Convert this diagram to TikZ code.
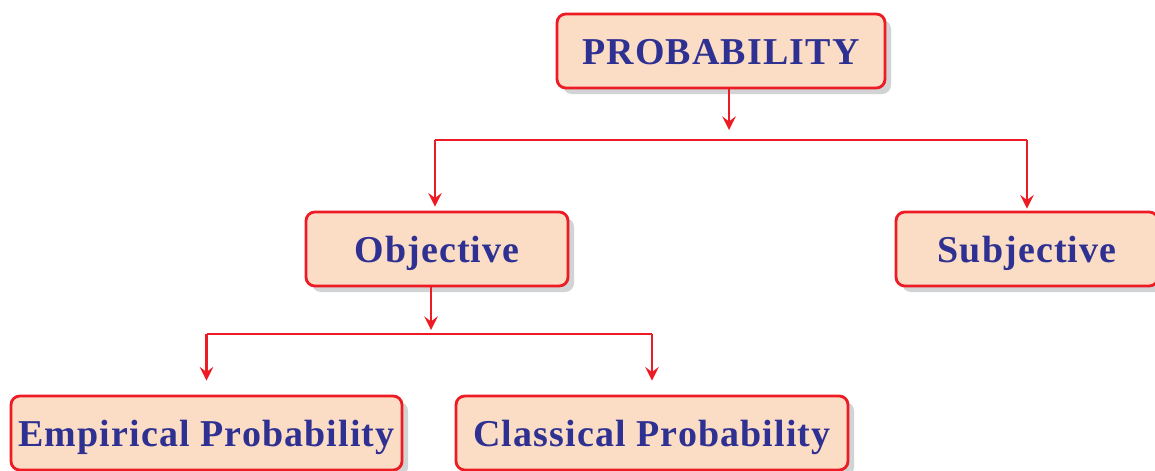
\documentclass[tikz,border=0pt]{standalone}
\usepackage{fontspec}
\setmainfont{Liberation Serif}
\newfontfamily\boxfont[LetterSpace=3]{Liberation Serif}
\usetikzlibrary{shadows}

\definecolor{boxfill}{HTML}{FBDCC5}
\definecolor{boxline}{HTML}{ED1C24}
\definecolor{boxtext}{HTML}{2E3192}
\definecolor{shadowgray}{HTML}{D1D3D4}

\tikzset{
  probbox/.style={draw=boxline, line width=0.8pt, fill=boxfill, rounded corners=2.5pt,
    minimum height=0.74cm, inner sep=0pt, text=boxtext,
    text height=0.30cm, text depth=0.03cm,
    font=\boxfont\bfseries\fontsize{10.8}{13}\selectfont,
    drop shadow={shadow xshift=0.06cm, shadow yshift=-0.06cm, fill=shadowgray, opacity=1}},
  link/.style={draw=boxline, line width=0.7pt},
  linkarrow/.style={link, ->}
}

\begin{document}
\begin{tikzpicture}[>=stealth]
  \useasboundingbox (0,0) rectangle (11.55,4.70);
  % Boxes
  \node[probbox, minimum width=3.28cm] (prob) at (7.21,4.19) {PROBABILITY};
  \node[probbox, minimum width=2.62cm] (obj) at (4.37,2.21) {Objective};
  \node[probbox, minimum width=2.62cm] (subj) at (10.27,2.21) {Subjective};
  \node[probbox, minimum width=3.91cm] (emp) at (2.065,0.37) {Empirical Probability};
  \node[probbox, minimum width=3.92cm] (cls) at (6.52,0.37) {Classical Probability};
  % Split points
  \coordinate (top bar) at (7.29,3.30);
  \coordinate (low bar) at (4.31,1.36);
  % PROBABILITY -> Objective / Subjective
  \draw[linkarrow] (prob.south -| top bar) -- ([yshift=0.1cm]top bar);
  \draw[link] ([xshift=-0.02cm]obj.north |- top bar) -- (subj.north |- top bar);
  \draw[linkarrow] ([xshift=-0.02cm]obj.north |- top bar) -- ([xshift=-0.02cm, yshift=0.04cm]obj.north);
  \draw[linkarrow] (subj.north |- top bar) -- ([yshift=0.02cm]subj.north);
  % Objective -> Empirical / Classical
  \draw[linkarrow] (obj.south -| low bar) -- ([yshift=0.04cm]low bar);
  \draw[link] (emp.north |- low bar) -- (cls.north |- low bar);
  \draw[linkarrow, shorten >=0.14cm] (emp.north |- low bar) -- (emp.north);
  \draw[linkarrow, shorten >=0.14cm] (cls.north |- low bar) -- (cls.north);
\end{tikzpicture}
\end{document}
